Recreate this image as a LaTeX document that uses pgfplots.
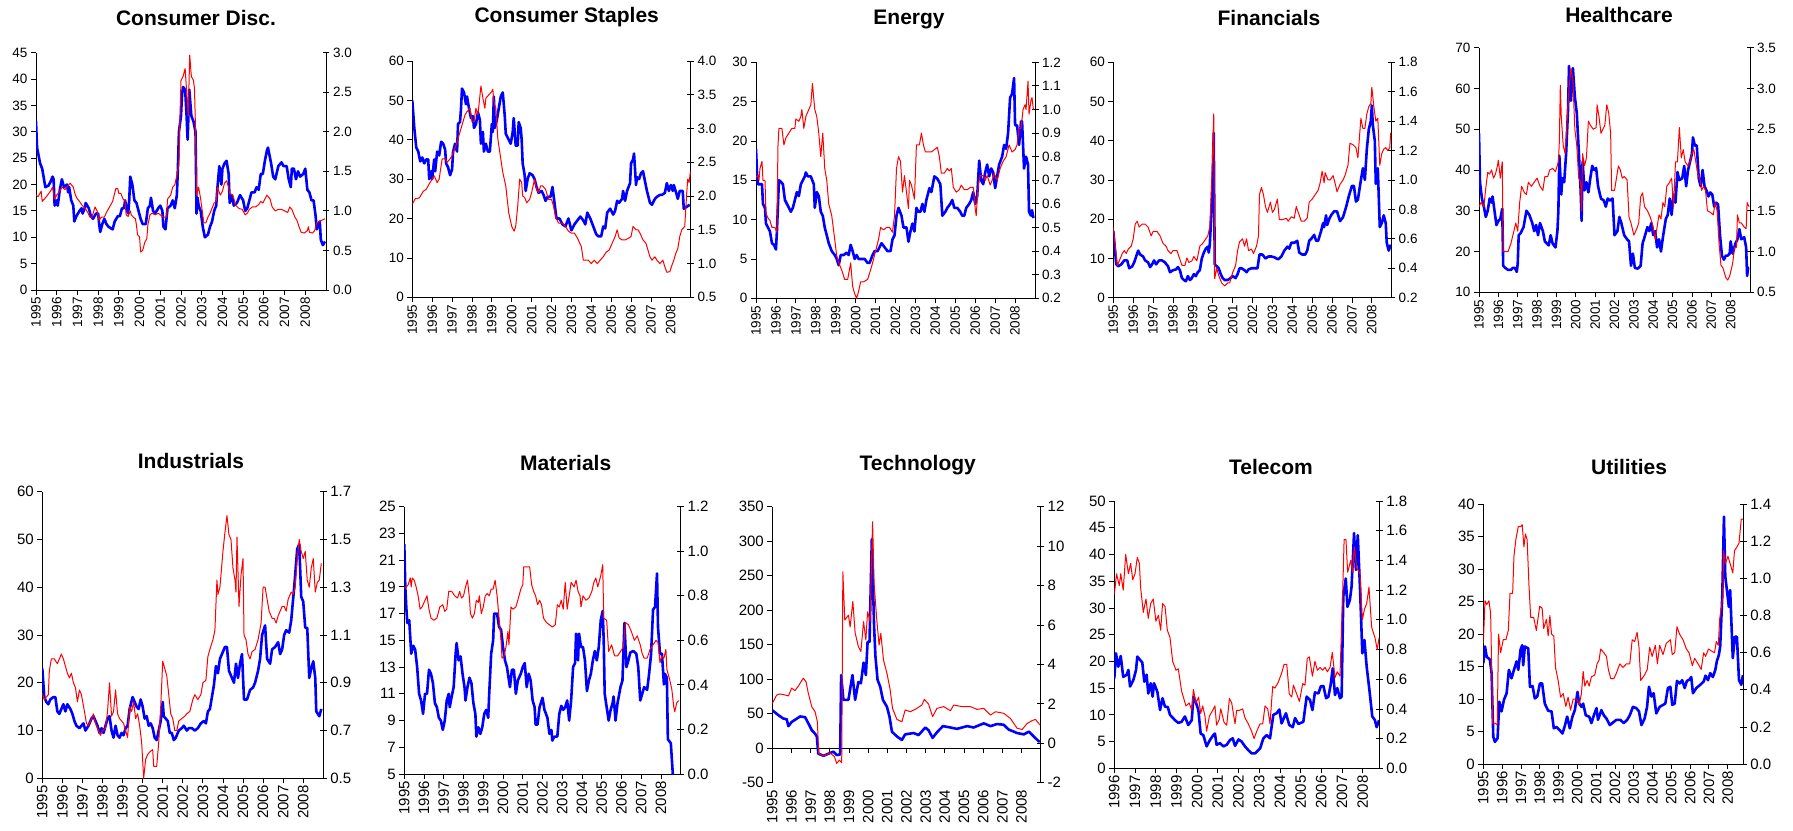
\documentclass[border=0pt]{standalone}
\usepackage{fontspec}
\setmainfont{Liberation Sans}
\usepackage{pgfplots}
\pgfplotsset{compat=1.18}
\pgfplotsset{
  /pgf/number format/assume math mode=true,
  base/.style={scale only axis, anchor=south west, xmin=1995, xmax=2009,
     xtick={1995,...,2008}, /pgf/number format/1000 sep={},
     axis line style={line width=0.9pt}, tick style={line width=0.8pt, black},
     every axis plot/.append style={line join=round}},
  L/.style={base, axis y line*=left, axis x line*=bottom, tick align=outside,
     major tick length=5pt,
     x tick label style={rotate=90, anchor=east, inner sep=2pt}},
  R/.style={base, axis y line*=right, axis x line=none, tick align=center,
     major tick length=7pt,
     yticklabel style={/pgf/number format/.cd, fixed, fixed zerofill, precision=1}},
  rowA/.style={tick label style={font=\fontsize{13.5}{15}\selectfont}},
  rowB/.style={tick label style={font=\fontsize{15}{17}\selectfont}},
  bl/.style={color={rgb,255:red,0;green,0;blue,255}, line width=2.6pt, no markers},
  rd/.style={color={rgb,255:red,255;green,0;blue,0}, line width=1pt, no markers},
}
\tikzset{ttl/.style={font=\bfseries\fontsize{21}{25}\selectfont}}
\begin{document}
\begin{tikzpicture}
\path[use as bounding box] (0pt,0pt) rectangle (1793pt,830pt);
% ---------------- Consumer Disc.
\begin{axis}[L,rowA, at={(36pt,540pt)}, width=290pt, height=237.3pt, ymin=0, ymax=45, ytick={0,5,10,15,20,25,30,35,40,45}]
\addplot[bl] coordinates {(1995.0,32)(1995.05,27)(1995.2,24)(1995.3,23)(1995.45,19.5)(1995.6,19.8)(1995.7,20.5)(1995.8,21.5)(1995.85,21)(1995.9,16)(1996.0,17)(1996.05,16)(1996.15,19)(1996.2,20)(1996.25,21)(1996.35,19.5)(1996.5,20)(1996.55,18.5)(1996.6,19.5)(1996.7,17)(1996.8,16)(1996.85,13)(1996.95,14)(1997.1,15)(1997.2,15.5)(1997.25,14.5)(1997.35,15.5)(1997.4,16.5)(1997.55,15.5)(1997.65,14)(1997.75,13.5)(1997.9,14.5)(1998.0,14.5)(1998.05,12.5)(1998.1,11)(1998.2,12.5)(1998.3,13.5)(1998.4,12.5)(1998.5,12)(1998.7,11.5)(1998.8,13)(1998.95,14)(1999.05,14)(1999.15,15.5)(1999.25,15.5)(1999.3,17)(1999.4,15)(1999.45,14.5)(1999.5,17)(1999.55,21.5)(1999.65,20)(1999.75,17)(1999.85,16.5)(1999.95,15)(2000.05,13.5)(2000.15,12.5)(2000.3,12.5)(2000.4,15.5)(2000.5,16)(2000.55,17.5)(2000.65,15)(2000.75,14.5)(2000.9,15.5)(2001.0,16)(2001.1,15)(2001.15,12)(2001.25,11.5)(2001.35,15.5)(2001.5,16)(2001.6,17)(2001.7,15.5)(2001.8,18)(2001.85,23)(2001.9,30)(2002.0,33)(2002.05,37)(2002.1,38.5)(2002.2,38)(2002.27,33)(2002.32,28.5)(2002.4,38)(2002.5,33)(2002.6,32)(2002.7,30)(2002.75,14.5)(2002.8,17.5)(2002.85,16)(2002.95,15)(2003.05,12)(2003.15,10)(2003.3,10.5)(2003.4,12)(2003.5,13)(2003.6,15)(2003.7,16)(2003.75,19)(2003.85,23.5)(2003.95,20)(2004.0,23)(2004.1,24)(2004.2,24.5)(2004.3,22)(2004.35,16.5)(2004.45,18)(2004.55,16)(2004.7,16.5)(2004.85,18)(2005.0,17)(2005.1,15)(2005.2,15.5)(2005.3,17)(2005.4,18.5)(2005.55,18.5)(2005.65,19.5)(2005.75,19)(2005.85,22)(2005.95,22)(2006.05,24.5)(2006.15,26.5)(2006.2,27)(2006.35,24)(2006.45,21.5)(2006.55,21)(2006.7,23.5)(2006.85,24.2)(2006.95,23.5)(2007.1,23.5)(2007.2,21)(2007.3,19.5)(2007.35,23)(2007.45,23)(2007.55,21)(2007.65,22.5)(2007.75,21.5)(2007.9,22)(2008.0,23)(2008.1,19)(2008.2,18.5)(2008.3,17)(2008.4,17)(2008.5,14)(2008.55,11.5)(2008.65,12.5)(2008.7,13)(2008.75,9.5)(2008.85,8.5)(2008.95,9.2)};
\end{axis}
\begin{axis}[R,rowA, at={(36pt,540pt)}, width=290pt, height=237.3pt, ymin=0, ymax=3, ytick={0,0.5,1,1.5,2,2.5,3}]
\addplot[rd] coordinates {(1995.0,1.2)(1995.1,1.18)(1995.25,1.25)(1995.3,1.12)(1995.5,1.18)(1995.7,1.25)(1995.8,1.3)(1995.9,1.15)(1996.0,1.2)(1996.15,1.25)(1996.25,1.3)(1996.4,1.27)(1996.55,1.32)(1996.65,1.35)(1996.8,1.3)(1996.9,1.2)(1997.0,1.15)(1997.1,1.12)(1997.2,1.08)(1997.3,1.05)(1997.4,1.02)(1997.5,0.98)(1997.6,0.92)(1997.7,0.92)(1997.85,1.05)(1997.95,1.0)(1998.05,0.88)(1998.15,0.92)(1998.3,0.92)(1998.4,0.98)(1998.55,1.05)(1998.7,1.12)(1998.85,1.28)(1998.95,1.28)(1999.0,1.22)(1999.1,1.22)(1999.2,1.15)(1999.3,1.13)(1999.35,0.95)(1999.45,0.93)(1999.55,1.0)(1999.6,0.95)(1999.7,0.92)(1999.8,0.9)(1999.85,0.82)(1999.9,0.7)(2000.0,0.67)(2000.05,0.48)(2000.15,0.5)(2000.25,0.6)(2000.35,0.65)(2000.4,0.82)(2000.5,0.95)(2000.6,0.97)(2000.75,0.95)(2000.9,0.97)(2001.0,0.95)(2001.15,0.92)(2001.3,0.92)(2001.35,1.15)(2001.5,1.2)(2001.6,1.3)(2001.7,1.33)(2001.8,1.45)(2001.9,1.6)(2001.95,2.2)(2002.0,2.65)(2002.1,2.7)(2002.2,2.8)(2002.25,2.6)(2002.3,2.4)(2002.35,2.2)(2002.42,2.97)(2002.5,2.7)(2002.6,2.65)(2002.65,2.55)(2002.7,2.05)(2002.75,1.2)(2002.85,1.3)(2002.95,1.15)(2003.1,0.85)(2003.2,0.85)(2003.3,0.92)(2003.4,0.97)(2003.6,1.1)(2003.7,1.12)(2003.75,1.3)(2003.9,1.2)(2004.0,1.25)(2004.1,1.35)(2004.2,1.38)(2004.3,1.3)(2004.35,1.22)(2004.5,1.2)(2004.65,1.07)(2004.8,1.03)(2004.95,1.02)(2005.1,0.95)(2005.2,0.97)(2005.3,1.02)(2005.45,1.05)(2005.6,1.05)(2005.75,1.08)(2005.85,1.12)(2005.95,1.1)(2006.05,1.15)(2006.15,1.2)(2006.3,1.15)(2006.4,1.05)(2006.55,1.0)(2006.7,1.02)(2006.85,1.02)(2007.0,1.0)(2007.15,0.98)(2007.25,1.05)(2007.35,1.02)(2007.5,0.92)(2007.6,0.88)(2007.7,0.8)(2007.8,0.73)(2007.95,0.72)(2008.1,0.75)(2008.15,0.8)(2008.2,0.73)(2008.35,0.72)(2008.45,0.75)(2008.55,0.85)(2008.7,0.87)(2008.95,0.9)};
\end{axis}
\node[ttl] at (196pt,812pt) {Consumer Disc.};
% ---------------- Consumer Staples
\begin{axis}[L,rowA, at={(412.3pt,532.7pt)}, width=278.4pt, height=236.3pt, ymin=0, ymax=60, ytick={0,10,20,30,40,50,60}]
\addplot[bl] coordinates {(1995.0,50)(1995.1,43)(1995.2,38)(1995.3,37)(1995.4,34.5)(1995.5,35.5)(1995.6,34)(1995.7,35)(1995.8,35)(1995.85,30)(1995.95,32)(1996.0,30)(1996.1,35)(1996.15,32)(1996.25,37)(1996.35,36)(1996.45,39.5)(1996.55,39)(1996.65,37.5)(1996.7,34)(1996.8,33)(1996.9,31)(1997.0,32.5)(1997.05,37)(1997.15,39)(1997.25,37)(1997.3,44)(1997.4,44.5)(1997.45,48)(1997.5,53)(1997.6,52)(1997.7,49)(1997.75,51)(1997.85,48)(1997.95,45.5)(1998.05,46)(1998.1,43)(1998.2,44)(1998.3,47)(1998.4,45)(1998.45,39)(1998.55,42)(1998.6,37)(1998.7,39)(1998.8,37)(1998.9,37)(1999.0,44)(1999.05,42)(1999.1,51)(1999.15,43)(1999.25,45)(1999.35,48)(1999.45,51)(1999.55,52)(1999.65,46)(1999.7,41.5)(1999.85,40)(1999.95,39)(2000.05,42)(2000.1,45.5)(2000.2,38.5)(2000.3,38.5)(2000.35,44.5)(2000.45,43)(2000.5,40)(2000.55,34)(2000.65,31)(2000.7,27)(2000.8,30)(2000.9,31.5)(2001.05,31)(2001.15,30)(2001.25,28)(2001.35,26.5)(2001.5,27)(2001.6,26)(2001.7,24.5)(2001.8,25.5)(2001.95,25.5)(2002.05,28)(2002.15,24)(2002.25,20)(2002.4,20)(2002.55,18.5)(2002.7,18)(2002.85,20)(2003.0,17)(2003.15,18.5)(2003.3,19.5)(2003.45,20.5)(2003.6,19.5)(2003.7,18.5)(2003.8,21.5)(2003.95,20)(2004.1,18)(2004.25,16)(2004.35,15.5)(2004.5,15.5)(2004.6,18)(2004.7,17.5)(2004.8,21.5)(2004.95,22.5)(2005.1,21)(2005.2,22)(2005.3,24.5)(2005.4,24)(2005.55,25)(2005.6,27)(2005.7,24.5)(2005.8,27)(2005.95,29)(2006.0,34)(2006.1,35)(2006.15,36.5)(2006.25,28.5)(2006.3,30.5)(2006.4,30)(2006.5,31.5)(2006.6,32)(2006.7,29.5)(2006.8,27)(2006.95,24)(2007.05,23.5)(2007.2,25)(2007.3,25.5)(2007.45,26)(2007.55,26)(2007.7,26.5)(2007.8,29)(2007.9,27)(2008.0,28.5)(2008.1,27)(2008.15,28.5)(2008.3,26)(2008.35,25)(2008.45,27)(2008.6,27)(2008.65,22.5)(2008.8,23)(2008.95,23.5)};
\end{axis}
\begin{axis}[R,rowA, at={(412.3pt,532.7pt)}, width=278.4pt, height=236.3pt, ymin=0.5, ymax=4, ytick={0.5,1,1.5,2,2.5,3,3.5,4}]
\addplot[rd] coordinates {(1995.0,1.88)(1995.15,1.96)(1995.35,1.97)(1995.55,2.07)(1995.7,2.1)(1995.85,2.18)(1996.0,2.25)(1996.1,2.3)(1996.25,2.2)(1996.35,2.25)(1996.5,2.55)(1996.65,2.55)(1996.75,2.5)(1996.9,2.55)(1997.0,2.6)(1997.2,2.75)(1997.35,2.9)(1997.5,3.05)(1997.65,3.2)(1997.75,3.25)(1997.9,3.3)(1998.0,3.1)(1998.1,3.1)(1998.2,3.3)(1998.3,3.2)(1998.45,3.63)(1998.55,3.45)(1998.65,3.3)(1998.7,3.45)(1998.85,3.5)(1999.0,3.55)(1999.05,3.58)(1999.1,3.4)(1999.2,3.3)(1999.3,2.85)(1999.45,2.55)(1999.55,2.35)(1999.7,2.15)(1999.85,1.75)(2000.0,1.55)(2000.12,1.48)(2000.2,1.55)(2000.3,1.85)(2000.4,2.25)(2000.5,2.2)(2000.55,2.0)(2000.65,1.98)(2000.75,1.9)(2000.9,1.95)(2001.0,2.05)(2001.15,2.25)(2001.25,2.1)(2001.35,2.05)(2001.45,2.15)(2001.55,2.15)(2001.7,2.1)(2001.85,1.95)(2002.0,1.95)(2002.1,1.85)(2002.2,1.7)(2002.35,1.6)(2002.55,1.6)(2002.7,1.55)(2002.85,1.48)(2003.0,1.45)(2003.15,1.45)(2003.3,1.38)(2003.5,1.25)(2003.6,1.05)(2003.85,1.05)(2004.0,1.0)(2004.15,1.05)(2004.3,1.0)(2004.45,1.05)(2004.6,1.1)(2004.75,1.17)(2004.9,1.2)(2005.05,1.3)(2005.2,1.4)(2005.3,1.5)(2005.4,1.38)(2005.55,1.35)(2005.7,1.35)(2005.85,1.37)(2006.0,1.4)(2006.1,1.55)(2006.25,1.5)(2006.35,1.5)(2006.45,1.45)(2006.6,1.35)(2006.75,1.3)(2006.85,1.2)(2006.95,1.1)(2007.05,1.05)(2007.2,1.1)(2007.3,1.05)(2007.45,1.0)(2007.6,1.05)(2007.7,0.95)(2007.8,0.87)(2007.95,0.88)(2008.05,0.97)(2008.15,1.05)(2008.25,1.15)(2008.35,1.22)(2008.45,1.4)(2008.55,1.5)(2008.7,1.55)(2008.8,2.05)(2008.85,2.25)(2008.92,2.2)(2008.99,2.37)};
\end{axis}
\node[ttl] at (566.7pt,813.3pt) {Consumer Staples};
% ---------------- Energy
\begin{axis}[L,rowA, at={(756pt,531.7pt)}, width=279pt, height=236pt, ymin=0, ymax=30, ytick={0,5,10,15,20,25,30}]
\addplot[bl] coordinates {(1995.0,19)(1995.05,16)(1995.1,14.5)(1995.2,14.5)(1995.3,14.5)(1995.35,12)(1995.45,11.5)(1995.5,9.5)(1995.6,9)(1995.7,8.5)(1995.8,7)(1995.9,6.8)(1996.0,6.2)(1996.05,8.5)(1996.15,15)(1996.25,14.8)(1996.35,14.5)(1996.45,12.5)(1996.55,12)(1996.65,11.5)(1996.75,11)(1996.85,11.5)(1996.95,12.5)(1997.05,13.5)(1997.15,13)(1997.25,14.5)(1997.35,15)(1997.45,15.5)(1997.5,16)(1997.6,15.5)(1997.75,15.5)(1997.9,14.5)(1997.95,11.5)(1998.05,13.5)(1998.15,13)(1998.25,11)(1998.35,10.5)(1998.45,9)(1998.55,8)(1998.65,7)(1998.8,6)(1998.95,5.5)(1999.05,5)(1999.15,4.2)(1999.25,5.5)(1999.4,5.5)(1999.55,5.8)(1999.65,5.5)(1999.75,6.8)(1999.85,6)(1999.95,5)(2000.05,5.5)(2000.15,5)(2000.3,5)(2000.45,5)(2000.6,4.5)(2000.7,4.5)(2000.85,5.5)(2000.95,6)(2001.1,6)(2001.2,6.5)(2001.3,7)(2001.45,6.5)(2001.6,6)(2001.75,6)(2001.85,7.5)(2001.95,8)(2002.05,10.5)(2002.15,11.5)(2002.3,10.5)(2002.4,9)(2002.55,9)(2002.65,7.2)(2002.75,8.5)(2002.85,9.5)(2002.95,8.5)(2003.05,11.5)(2003.15,11)(2003.25,11)(2003.35,12)(2003.45,11)(2003.55,12.5)(2003.7,14)(2003.8,13.5)(2003.95,15.5)(2004.1,15.2)(2004.25,14.5)(2004.35,10.5)(2004.5,11)(2004.6,11.5)(2004.75,12)(2004.85,12.5)(2004.95,11.5)(2005.1,11.5)(2005.25,11)(2005.35,10.5)(2005.45,10.5)(2005.55,11.5)(2005.7,12)(2005.8,12.5)(2005.9,13.5)(2006.0,12)(2006.1,13)(2006.2,17.5)(2006.3,15)(2006.4,14.5)(2006.5,16)(2006.6,17)(2006.7,15.5)(2006.8,16.5)(2006.9,16)(2007.0,14)(2007.1,15.5)(2007.2,17)(2007.35,18)(2007.45,19.5)(2007.55,19)(2007.65,21)(2007.75,25.5)(2007.85,26)(2007.95,28)(2008.0,22)(2008.1,22)(2008.2,19.5)(2008.3,22.5)(2008.35,22.5)(2008.45,16.5)(2008.55,18)(2008.65,17)(2008.7,11)(2008.8,10.5)(2008.85,11.2)(2008.92,10.2)};
\end{axis}
\begin{axis}[R,rowA, at={(756pt,531.7pt)}, width=279pt, height=236pt, ymin=0.2, ymax=1.2, ytick={0.2,0.3,0.4,0.5,0.6,0.7,0.8,0.9,1.0,1.1,1.2}]
\addplot[rd] coordinates {(1995.0,0.715)(1995.1,0.72)(1995.15,0.7)(1995.2,0.75)(1995.3,0.78)(1995.35,0.7)(1995.45,0.7)(1995.5,0.56)(1995.6,0.54)(1995.7,0.53)(1995.8,0.5)(1995.95,0.5)(1996.05,0.48)(1996.1,0.84)(1996.15,0.92)(1996.3,0.92)(1996.4,0.85)(1996.5,0.88)(1996.65,0.9)(1996.8,0.92)(1996.95,0.92)(1997.0,0.96)(1997.15,0.95)(1997.25,0.97)(1997.3,1.0)(1997.4,0.92)(1997.5,0.97)(1997.65,1.0)(1997.75,1.02)(1997.83,1.11)(1997.95,1.0)(1998.05,0.97)(1998.15,0.9)(1998.25,0.8)(1998.35,0.9)(1998.45,0.75)(1998.55,0.7)(1998.65,0.6)(1998.8,0.55)(1998.95,0.45)(1999.05,0.38)(1999.15,0.35)(1999.3,0.32)(1999.45,0.28)(1999.6,0.28)(1999.75,0.35)(1999.85,0.25)(1999.95,0.22)(2000.05,0.2)(2000.15,0.23)(2000.25,0.27)(2000.4,0.27)(2000.6,0.28)(2000.75,0.32)(2000.85,0.35)(2001.0,0.4)(2001.15,0.45)(2001.25,0.5)(2001.4,0.49)(2001.55,0.5)(2001.7,0.5)(2001.85,0.48)(2001.95,0.55)(2002.05,0.75)(2002.15,0.8)(2002.25,0.78)(2002.35,0.65)(2002.45,0.72)(2002.55,0.65)(2002.65,0.58)(2002.7,0.7)(2002.8,0.68)(2002.95,0.62)(2003.05,0.85)(2003.2,0.85)(2003.3,0.9)(2003.4,0.85)(2003.5,0.82)(2003.65,0.82)(2003.8,0.82)(2003.95,0.83)(2004.1,0.84)(2004.2,0.8)(2004.3,0.73)(2004.45,0.73)(2004.6,0.75)(2004.7,0.74)(2004.8,0.75)(2004.9,0.67)(2005.05,0.65)(2005.2,0.66)(2005.3,0.68)(2005.45,0.66)(2005.6,0.66)(2005.75,0.67)(2005.9,0.67)(2006.0,0.58)(2006.05,0.55)(2006.15,0.68)(2006.25,0.72)(2006.4,0.72)(2006.5,0.7)(2006.6,0.72)(2006.75,0.68)(2006.85,0.7)(2006.95,0.73)(2007.1,0.7)(2007.25,0.75)(2007.4,0.78)(2007.55,0.8)(2007.7,0.85)(2007.85,0.82)(2008.0,0.83)(2008.1,0.85)(2008.2,0.92)(2008.3,0.92)(2008.4,1.0)(2008.5,1.02)(2008.55,1.0)(2008.65,1.12)(2008.7,0.98)(2008.8,1.04)(2008.85,1.05)(2008.92,1.0)};
\end{axis}
\node[ttl] at (909pt,810pt) {Energy};
% ---------------- Financials
\begin{axis}[L,rowA, at={(1113.3pt,532.3pt)}, width=278.4pt, height=235.4pt, ymin=0, ymax=60, ytick={0,10,20,30,40,50,60}]
\addplot[bl] coordinates {(1995.0,17)(1995.05,14)(1995.15,8.5)(1995.25,8)(1995.4,8.5)(1995.55,9.5)(1995.7,9.5)(1995.8,7.5)(1995.95,8)(1996.05,9)(1996.15,10.5)(1996.25,12)(1996.35,11)(1996.5,10.5)(1996.6,9.5)(1996.75,9)(1996.85,7.8)(1996.95,8.5)(1997.05,9.5)(1997.15,8.5)(1997.3,9.5)(1997.45,9.5)(1997.6,9)(1997.75,8)(1997.85,6.5)(1998.0,7)(1998.15,7.2)(1998.25,7.8)(1998.35,7)(1998.45,5)(1998.55,4.5)(1998.65,4.2)(1998.75,5.5)(1998.85,4.5)(1998.95,5)(1999.05,6)(1999.15,5.5)(1999.25,6.5)(1999.35,7)(1999.45,10)(1999.55,11.5)(1999.65,12.5)(1999.75,13)(1999.8,11.5)(1999.85,13.5)(1999.95,23)(2000.0,30)(2000.05,42)(2000.1,8.5)(2000.2,8)(2000.3,7.5)(2000.4,6)(2000.5,5)(2000.6,4.5)(2000.75,4.5)(2000.9,5)(2001.0,5.5)(2001.15,5)(2001.25,6)(2001.35,7.5)(2001.45,7.5)(2001.6,7)(2001.7,6.5)(2001.8,7.2)(2001.95,7.5)(2002.1,7.5)(2002.25,7.5)(2002.35,11)(2002.5,11)(2002.65,10)(2002.8,10.5)(2002.95,10.5)(2003.1,10.3)(2003.2,10)(2003.3,9.8)(2003.45,10.5)(2003.6,12)(2003.75,13)(2003.85,12.5)(2003.95,14)(2004.1,14)(2004.25,14.5)(2004.35,11.5)(2004.5,11)(2004.65,11)(2004.75,12)(2004.85,14.5)(2004.95,15)(2005.1,16)(2005.2,14.5)(2005.3,14.5)(2005.45,17)(2005.55,19)(2005.6,18)(2005.7,21)(2005.75,18.5)(2005.85,20)(2005.95,21)(2006.1,22)(2006.25,22)(2006.4,19.5)(2006.55,20.5)(2006.7,23)(2006.85,26)(2007.0,28.5)(2007.1,28.5)(2007.2,24.5)(2007.3,25)(2007.45,30)(2007.55,33)(2007.65,30)(2007.75,38)(2007.85,43)(2007.95,45)(2008.0,49)(2008.05,44)(2008.15,40)(2008.2,29)(2008.3,33)(2008.4,18)(2008.5,19)(2008.6,21)(2008.7,19)(2008.75,14)(2008.85,12)(2008.95,13.5)};
\end{axis}
\begin{axis}[R,rowA, at={(1113.3pt,532.3pt)}, width=278.4pt, height=235.4pt, ymin=0.2, ymax=1.8, ytick={0.2,0.4,0.6,0.8,1.0,1.2,1.4,1.6,1.8}]
\addplot[rd] coordinates {(1995.0,0.676)(1995.1,0.55)(1995.2,0.42)(1995.3,0.45)(1995.45,0.5)(1995.55,0.52)(1995.65,0.5)(1995.75,0.53)(1995.9,0.55)(1996.0,0.6)(1996.1,0.7)(1996.2,0.72)(1996.3,0.68)(1996.45,0.7)(1996.6,0.7)(1996.75,0.68)(1996.9,0.62)(1997.0,0.65)(1997.2,0.65)(1997.35,0.62)(1997.5,0.57)(1997.65,0.55)(1997.75,0.52)(1997.9,0.5)(1998.0,0.52)(1998.2,0.52)(1998.3,0.48)(1998.45,0.42)(1998.6,0.42)(1998.7,0.47)(1998.8,0.44)(1998.95,0.45)(1999.05,0.48)(1999.2,0.45)(1999.35,0.55)(1999.5,0.57)(1999.65,0.6)(1999.75,0.62)(1999.85,0.68)(1999.95,1.0)(2000.05,1.45)(2000.1,0.33)(2000.2,0.4)(2000.3,0.35)(2000.45,0.3)(2000.6,0.28)(2000.75,0.3)(2000.85,0.3)(2001.0,0.37)(2001.15,0.42)(2001.25,0.52)(2001.35,0.58)(2001.5,0.6)(2001.6,0.55)(2001.7,0.6)(2001.8,0.52)(2001.95,0.53)(2002.05,0.5)(2002.2,0.55)(2002.3,0.62)(2002.35,0.9)(2002.45,0.95)(2002.55,0.9)(2002.65,0.82)(2002.75,0.78)(2002.9,0.85)(2003.0,0.78)(2003.1,0.8)(2003.25,0.87)(2003.35,0.73)(2003.5,0.73)(2003.7,0.74)(2003.8,0.72)(2003.95,0.75)(2004.1,0.74)(2004.2,0.82)(2004.3,0.78)(2004.45,0.72)(2004.6,0.72)(2004.75,0.74)(2004.85,0.85)(2005.0,0.87)(2005.15,0.9)(2005.3,0.93)(2005.4,0.98)(2005.5,1.06)(2005.6,0.98)(2005.65,1.05)(2005.8,1.0)(2005.9,1.0)(2006.05,1.03)(2006.15,0.98)(2006.25,0.92)(2006.4,0.97)(2006.55,1.0)(2006.65,1.03)(2006.8,1.1)(2006.9,1.25)(2007.05,1.24)(2007.2,1.22)(2007.3,1.15)(2007.45,1.42)(2007.55,1.35)(2007.65,1.35)(2007.75,1.45)(2007.85,1.5)(2007.95,1.52)(2008.0,1.63)(2008.1,1.5)(2008.2,1.4)(2008.3,1.42)(2008.4,1.1)(2008.5,1.18)(2008.6,1.21)(2008.7,1.22)(2008.8,1.2)(2008.9,1.22)(2008.95,1.32)};
\end{axis}
\node[ttl] at (1269pt,811.7pt) {Financials};
% ---------------- Healthcare
\begin{axis}[L,rowA, at={(1479pt,537.7pt)}, width=271pt, height=244.6pt, ymin=10, ymax=70, ytick={10,20,30,40,50,60,70}]
\addplot[bl] coordinates {(1995.0,49)(1995.05,37)(1995.15,33)(1995.25,31)(1995.35,28.5)(1995.45,30)(1995.55,33)(1995.65,32)(1995.7,33.5)(1995.8,30)(1995.9,26.5)(1996.0,27.5)(1996.1,28)(1996.2,30.5)(1996.25,16.5)(1996.35,16)(1996.5,15.5)(1996.65,15.5)(1996.75,16)(1996.85,16)(1996.95,15)(1997.0,17)(1997.05,24)(1997.15,24.5)(1997.3,26)(1997.45,30)(1997.6,29)(1997.75,27)(1997.85,25)(1997.95,26.5)(1998.05,24)(1998.15,27)(1998.3,25)(1998.4,22.5)(1998.5,22)(1998.6,21.5)(1998.7,24)(1998.8,22)(1998.95,21)(1999.05,25)(1999.1,30)(1999.15,43.5)(1999.25,34)(1999.3,38)(1999.4,37)(1999.5,44)(1999.6,55)(1999.65,65.5)(1999.75,57)(1999.85,65)(1999.95,58)(2000.05,54)(2000.15,45)(2000.25,35)(2000.3,27.5)(2000.35,42)(2000.45,35)(2000.55,37)(2000.65,34.5)(2000.75,38)(2000.85,41)(2000.95,40)(2001.05,40.5)(2001.15,36)(2001.3,33)(2001.45,32.5)(2001.55,31)(2001.65,33)(2001.75,32.5)(2001.9,33)(2002.0,24)(2002.15,25)(2002.25,28.5)(2002.35,27)(2002.5,24)(2002.65,23)(2002.75,22.5)(2002.85,16.5)(2002.95,19.5)(2003.05,16)(2003.2,15.8)(2003.35,16.5)(2003.45,22)(2003.55,23.5)(2003.7,26)(2003.8,25)(2003.9,27)(2004.0,24)(2004.1,25)(2004.2,21)(2004.3,23)(2004.4,20)(2004.5,23.5)(2004.65,28)(2004.75,29)(2004.85,33)(2004.95,29)(2005.05,34)(2005.15,32)(2005.25,39.5)(2005.35,37.5)(2005.5,38)(2005.6,41)(2005.7,36)(2005.8,40)(2005.9,42)(2006.0,44)(2006.05,48)(2006.15,46)(2006.25,46)(2006.35,38)(2006.45,36)(2006.55,40)(2006.65,36)(2006.75,35)(2006.85,33.5)(2006.95,34.5)(2007.05,34)(2007.15,31)(2007.25,32)(2007.35,31.5)(2007.45,24)(2007.55,19)(2007.65,18)(2007.75,19)(2007.85,19)(2007.95,19.5)(2008.0,22.5)(2008.1,19.5)(2008.25,22)(2008.35,23)(2008.45,25.5)(2008.55,23)(2008.7,23.5)(2008.8,21)(2008.85,14)(2008.9,16)(2008.95,16)};
\end{axis}
\begin{axis}[R,rowA, at={(1479pt,537.7pt)}, width=271pt, height=244.6pt, ymin=0.5, ymax=3.5, ytick={0.5,1,1.5,2,2.5,3,3.5}]
\addplot[rd] coordinates {(1995.0,1.55)(1995.1,1.6)(1995.25,1.55)(1995.35,1.78)(1995.45,1.97)(1995.55,1.95)(1995.65,2.0)(1995.75,1.9)(1995.85,1.95)(1995.95,2.05)(1996.0,2.12)(1996.1,1.9)(1996.2,2.1)(1996.25,1.0)(1996.35,1.0)(1996.5,1.0)(1996.65,1.1)(1996.8,1.25)(1996.9,1.35)(1997.0,1.25)(1997.1,1.6)(1997.2,1.8)(1997.35,1.72)(1997.45,1.7)(1997.55,1.85)(1997.7,1.8)(1997.85,1.85)(1998.0,1.9)(1998.15,1.8)(1998.3,1.75)(1998.4,1.92)(1998.55,1.92)(1998.65,2.0)(1998.8,2.02)(1998.95,1.98)(1999.1,2.1)(1999.15,2.35)(1999.2,3.04)(1999.25,2.65)(1999.35,2.3)(1999.45,2.2)(1999.55,2.6)(1999.65,3.0)(1999.75,3.25)(1999.85,3.1)(1999.95,2.5)(2000.05,2.3)(2000.15,1.9)(2000.25,1.85)(2000.3,1.5)(2000.35,2.2)(2000.45,2.05)(2000.55,2.15)(2000.65,2.6)(2000.75,2.55)(2000.9,2.5)(2001.05,2.52)(2001.1,2.8)(2001.2,2.65)(2001.3,2.45)(2001.4,2.5)(2001.5,2.55)(2001.6,2.8)(2001.7,2.7)(2001.8,2.45)(2001.85,1.75)(2002.0,1.75)(2002.1,1.9)(2002.2,2.05)(2002.3,2.0)(2002.4,1.9)(2002.5,1.92)(2002.65,1.88)(2002.75,1.42)(2002.85,1.35)(2003.0,1.2)(2003.15,1.28)(2003.25,1.35)(2003.35,1.67)(2003.45,1.72)(2003.55,1.55)(2003.7,1.5)(2003.85,1.42)(2004.0,1.3)(2004.1,1.15)(2004.2,1.3)(2004.3,1.45)(2004.4,1.4)(2004.5,1.6)(2004.6,1.55)(2004.7,1.8)(2004.85,1.85)(2004.95,1.9)(2005.05,1.55)(2005.15,2.1)(2005.25,2.1)(2005.35,2.52)(2005.45,2.15)(2005.55,2.25)(2005.65,2.1)(2005.8,2.05)(2005.9,2.1)(2006.0,2.2)(2006.1,2.25)(2006.2,2.1)(2006.3,1.95)(2006.4,1.9)(2006.5,1.75)(2006.6,1.8)(2006.7,1.75)(2006.8,1.5)(2006.95,1.48)(2007.1,1.45)(2007.2,1.6)(2007.3,1.5)(2007.4,1.1)(2007.5,0.83)(2007.6,0.8)(2007.75,0.68)(2007.85,0.65)(2007.95,0.7)(2008.1,0.85)(2008.2,1.05)(2008.3,1.05)(2008.35,1.45)(2008.45,1.35)(2008.55,1.35)(2008.7,1.3)(2008.8,1.28)(2008.85,1.6)(2008.95,1.55)};
\end{axis}
\node[ttl] at (1619pt,815pt) {Healthcare};
% ---------------- Industrials
\begin{axis}[L,rowB, at={(42.3pt,51.7pt)}, width=281pt, height=286.6pt, ymin=0, ymax=60, ytick={0,10,20,30,40,50,60}]
\addplot[bl] coordinates {(1995.0,23)(1995.05,20)(1995.1,17)(1995.2,16)(1995.3,15.5)(1995.4,16.5)(1995.55,17)(1995.65,17)(1995.75,14)(1995.85,13.5)(1995.95,14.5)(1996.05,15.5)(1996.15,14)(1996.25,15.5)(1996.4,14.5)(1996.5,13.5)(1996.6,12)(1996.7,11)(1996.85,10.5)(1996.95,11)(1997.05,11.5)(1997.15,10)(1997.3,11)(1997.45,12.5)(1997.55,13)(1997.65,12)(1997.75,11)(1997.85,9.5)(1997.95,10.5)(1998.05,9.5)(1998.15,11)(1998.25,12.5)(1998.35,13)(1998.45,10)(1998.55,8.5)(1998.65,11)(1998.75,9)(1998.85,8.5)(1998.95,9.5)(1999.05,9)(1999.15,10.5)(1999.25,11)(1999.35,14.5)(1999.5,17)(1999.6,16)(1999.7,15)(1999.8,14.5)(1999.9,16.5)(2000.0,15)(2000.1,12.5)(2000.2,13)(2000.3,11)(2000.4,11.5)(2000.5,10.5)(2000.6,8.5)(2000.7,8)(2000.8,10)(2000.9,12)(2001.0,16)(2001.05,13)(2001.15,12.5)(2001.25,12)(2001.35,9.5)(2001.45,9.5)(2001.55,8)(2001.65,8.5)(2001.8,10)(2001.95,10.5)(2002.05,11)(2002.2,10)(2002.3,10.5)(2002.45,10.5)(2002.6,10)(2002.75,10.5)(2002.9,11.5)(2003.05,12)(2003.15,11.5)(2003.25,14)(2003.35,14.5)(2003.45,17)(2003.55,19.5)(2003.65,23.5)(2003.75,22)(2003.85,25)(2003.95,26)(2004.1,27.5)(2004.2,27.5)(2004.3,22.5)(2004.45,21)(2004.55,20)(2004.65,24)(2004.75,21)(2004.85,24)(2004.95,26)(2005.05,16.5)(2005.2,16.5)(2005.35,18.5)(2005.5,19)(2005.6,20)(2005.75,22.5)(2005.85,25)(2005.95,30)(2006.1,32)(2006.2,25)(2006.35,24)(2006.45,27)(2006.6,27.5)(2006.75,28.5)(2006.85,26)(2006.95,27)(2007.05,30)(2007.15,31)(2007.3,30.5)(2007.4,33)(2007.55,40)(2007.7,48)(2007.8,49)(2007.9,38)(2008.0,37)(2008.1,31.5)(2008.2,31.5)(2008.3,21)(2008.4,23)(2008.5,24.5)(2008.6,21)(2008.65,14)(2008.8,13)(2008.9,14.5)};
\end{axis}
\begin{axis}[R,rowB, at={(42.3pt,51.7pt)}, width=281pt, height=286.6pt, ymin=0.5, ymax=1.7, ytick={0.5,0.7,0.9,1.1,1.3,1.5,1.7}]
\addplot[rd] coordinates {(1995.0,0.856)(1995.1,0.83)(1995.2,0.84)(1995.3,0.85)(1995.35,0.95)(1995.45,1.0)(1995.6,1.0)(1995.75,0.98)(1995.85,1.0)(1995.95,1.02)(1996.05,1.0)(1996.15,0.97)(1996.25,0.94)(1996.35,0.92)(1996.45,0.94)(1996.55,0.9)(1996.65,0.88)(1996.75,0.82)(1996.85,0.87)(1996.95,0.85)(1997.1,0.78)(1997.2,0.73)(1997.3,0.72)(1997.45,0.75)(1997.55,0.77)(1997.65,0.73)(1997.8,0.7)(1997.9,0.68)(1998.0,0.7)(1998.15,0.71)(1998.25,0.78)(1998.35,0.9)(1998.45,0.76)(1998.55,0.78)(1998.65,0.87)(1998.75,0.77)(1998.85,0.75)(1998.95,0.74)(1999.05,0.73)(1999.15,0.7)(1999.25,0.67)(1999.35,0.8)(1999.45,0.78)(1999.55,0.82)(1999.65,0.75)(1999.75,0.77)(1999.85,0.72)(1999.95,0.65)(2000.05,0.5)(2000.15,0.58)(2000.25,0.6)(2000.35,0.61)(2000.5,0.62)(2000.55,0.55)(2000.7,0.55)(2000.8,0.65)(2000.9,0.8)(2001.0,0.99)(2001.1,0.96)(2001.2,0.93)(2001.3,0.85)(2001.4,0.77)(2001.5,0.75)(2001.6,0.7)(2001.7,0.7)(2001.8,0.74)(2001.95,0.75)(2002.1,0.76)(2002.2,0.77)(2002.35,0.78)(2002.5,0.83)(2002.6,0.85)(2002.75,0.83)(2002.9,0.85)(2003.0,0.9)(2003.15,0.91)(2003.25,1.01)(2003.35,1.04)(2003.5,1.08)(2003.6,1.12)(2003.7,1.33)(2003.75,1.27)(2003.85,1.3)(2004.0,1.45)(2004.1,1.53)(2004.2,1.6)(2004.3,1.52)(2004.4,1.5)(2004.5,1.38)(2004.6,1.33)(2004.65,1.28)(2004.7,1.51)(2004.8,1.22)(2004.9,1.35)(2005.0,1.42)(2005.05,1.1)(2005.15,1.08)(2005.25,1.02)(2005.35,1.0)(2005.45,1.03)(2005.6,1.04)(2005.75,1.08)(2005.9,1.15)(2006.0,1.3)(2006.1,1.3)(2006.2,1.25)(2006.3,1.2)(2006.45,1.17)(2006.55,1.17)(2006.65,1.15)(2006.75,1.18)(2006.85,1.2)(2006.95,1.22)(2007.05,1.22)(2007.15,1.2)(2007.25,1.25)(2007.4,1.28)(2007.5,1.27)(2007.6,1.3)(2007.7,1.42)(2007.8,1.5)(2007.9,1.45)(2008.0,1.42)(2008.1,1.45)(2008.2,1.33)(2008.3,1.3)(2008.4,1.38)(2008.5,1.42)(2008.6,1.28)(2008.7,1.32)(2008.8,1.33)(2008.9,1.4)};
\end{axis}
\node[ttl] at (191pt,369.3pt) {Industrials};
% ---------------- Materials
\begin{axis}[L,rowB, at={(404.3pt,56pt)}, width=276.4pt, height=267.3pt, ymin=5, ymax=25, ytick={5,7,9,11,13,15,17,19,21,23,25}]
\addplot[bl] coordinates {(1995.0,22.2)(1995.05,19)(1995.1,17.5)(1995.15,16.3)(1995.25,16.5)(1995.35,14)(1995.45,14.6)(1995.55,14.3)(1995.65,13)(1995.75,11)(1995.85,10.5)(1995.95,9.5)(1996.05,11)(1996.15,11)(1996.25,12.8)(1996.35,12.5)(1996.45,11.8)(1996.55,10.3)(1996.65,10)(1996.75,9.2)(1996.85,9)(1996.95,8.3)(1997.05,9)(1997.15,10.5)(1997.25,11)(1997.3,10)(1997.4,10.8)(1997.5,11.5)(1997.6,14)(1997.65,14.8)(1997.75,13.5)(1997.85,13.8)(1997.95,12.5)(1998.05,11.5)(1998.1,10.5)(1998.2,11.5)(1998.3,12.2)(1998.4,11.8)(1998.5,10.3)(1998.6,9.5)(1998.65,7.8)(1998.75,8.5)(1998.85,8)(1998.95,8.5)(1999.05,9.5)(1999.15,9.8)(1999.25,9.2)(1999.3,11)(1999.4,14)(1999.5,15)(1999.55,17)(1999.7,17)(1999.8,16)(1999.9,15.8)(2000.0,14.5)(2000.1,13.5)(2000.2,13)(2000.35,11.5)(2000.45,12.8)(2000.55,12.8)(2000.65,11)(2000.75,12)(2000.9,12.5)(2001.0,13)(2001.1,13.3)(2001.2,11.5)(2001.3,12.5)(2001.4,12)(2001.5,10.5)(2001.6,10)(2001.65,8.7)(2001.75,8.7)(2001.85,10)(2002.0,10.7)(2002.1,9.8)(2002.25,9.2)(2002.35,8)(2002.45,8.3)(2002.5,7.5)(2002.6,7.8)(2002.75,7.8)(2002.85,9.5)(2002.95,10.1)(2003.05,9.8)(2003.15,10)(2003.25,10.5)(2003.35,9)(2003.45,10.5)(2003.55,13)(2003.65,13.3)(2003.7,15.5)(2003.8,13.5)(2003.85,15.5)(2003.95,14.5)(2004.05,14.5)(2004.15,13.5)(2004.25,11.2)(2004.35,12)(2004.45,12.5)(2004.55,13.5)(2004.65,14.2)(2004.75,13.5)(2004.85,14.5)(2004.95,16.5)(2005.05,17.2)(2005.1,15)(2005.15,11)(2005.25,10)(2005.35,9)(2005.45,9.8)(2005.55,10.3)(2005.6,10.8)(2005.7,9)(2005.8,10.3)(2005.95,11.5)(2006.05,12)(2006.15,16.3)(2006.25,13)(2006.35,13.5)(2006.45,14.1)(2006.6,14.2)(2006.75,14)(2006.85,13)(2006.95,10.5)(2007.05,11)(2007.15,11.5)(2007.3,11.3)(2007.4,12.5)(2007.5,14)(2007.6,17.3)(2007.7,17.5)(2007.8,20)(2007.85,16)(2007.95,14)(2008.05,14)(2008.15,11.7)(2008.2,12.5)(2008.3,12.2)(2008.35,7.6)(2008.5,7.3)(2008.6,5)(2008.65,3)};
\end{axis}
\begin{axis}[R,rowB, at={(404.3pt,56pt)}, width=276.4pt, height=267.3pt, ymin=0, ymax=1.2, ytick={0,0.2,0.4,0.6,0.8,1.0,1.2}]
\addplot[rd] coordinates {(1995.0,0.833)(1995.1,0.84)(1995.2,0.85)(1995.3,0.88)(1995.35,0.84)(1995.4,0.88)(1995.5,0.87)(1995.6,0.84)(1995.7,0.8)(1995.8,0.74)(1995.9,0.75)(1996.0,0.77)(1996.15,0.8)(1996.25,0.74)(1996.35,0.7)(1996.5,0.69)(1996.65,0.7)(1996.8,0.75)(1996.95,0.76)(1997.05,0.73)(1997.15,0.74)(1997.25,0.82)(1997.4,0.82)(1997.55,0.8)(1997.7,0.79)(1997.8,0.82)(1997.9,0.79)(1998.0,0.8)(1998.1,0.84)(1998.2,0.87)(1998.3,0.79)(1998.35,0.72)(1998.45,0.7)(1998.55,0.72)(1998.65,0.78)(1998.75,0.77)(1998.8,0.8)(1998.9,0.72)(1999.0,0.75)(1999.1,0.8)(1999.2,0.81)(1999.3,0.8)(1999.4,0.83)(1999.5,0.83)(1999.6,0.87)(1999.7,0.8)(1999.8,0.7)(1999.9,0.6)(1999.95,0.52)(2000.05,0.53)(2000.15,0.57)(2000.25,0.64)(2000.3,0.58)(2000.4,0.75)(2000.5,0.74)(2000.65,0.75)(2000.75,0.78)(2000.9,0.83)(2001.0,0.85)(2001.05,0.93)(2001.2,0.93)(2001.35,0.93)(2001.45,0.85)(2001.55,0.82)(2001.65,0.8)(2001.75,0.76)(2001.85,0.78)(2001.95,0.76)(2002.05,0.7)(2002.2,0.68)(2002.35,0.67)(2002.5,0.66)(2002.65,0.67)(2002.75,0.76)(2002.85,0.75)(2002.95,0.78)(2003.05,0.74)(2003.15,0.86)(2003.25,0.74)(2003.35,0.8)(2003.45,0.86)(2003.6,0.84)(2003.7,0.87)(2003.8,0.82)(2003.9,0.8)(2003.95,0.75)(2004.05,0.8)(2004.2,0.78)(2004.35,0.79)(2004.5,0.82)(2004.6,0.86)(2004.7,0.88)(2004.8,0.84)(2004.95,0.89)(2005.05,0.94)(2005.1,0.7)(2005.25,0.69)(2005.35,0.55)(2005.5,0.58)(2005.65,0.53)(2005.8,0.53)(2005.95,0.55)(2006.1,0.57)(2006.2,0.68)(2006.35,0.67)(2006.5,0.64)(2006.65,0.6)(2006.8,0.62)(2006.95,0.58)(2007.05,0.54)(2007.15,0.52)(2007.3,0.52)(2007.45,0.56)(2007.6,0.58)(2007.75,0.6)(2007.85,0.59)(2007.95,0.5)(2008.05,0.53)(2008.15,0.52)(2008.25,0.56)(2008.3,0.47)(2008.45,0.42)(2008.55,0.38)(2008.65,0.3)(2008.7,0.28)(2008.8,0.32)(2008.9,0.33)};
\end{axis}
\node[ttl] at (565.7pt,367.3pt) {Materials};
% ---------------- Technology
\begin{axis}[L,rowB, at={(772.3pt,47.3pt)}, width=268.4pt, height=276pt, ymin=-50, ymax=350, ytick={-50,0,50,100,150,200,250,300,350}, x axis line style={draw=none}, xtick style={draw=none}]
\draw[line width=0.9pt] (axis cs:1995,0) -- (axis cs:2009,0);
\pgfplotsinvokeforeach{1995,1996,1997,1998,1999,2000,2001,2002,2003,2004,2005,2006,2007,2008}{\draw[line width=0.8pt] (axis cs:#1,0) -- ++(0pt,-5pt);}
\addplot[bl] coordinates {(1995.0,55)(1995.31,48)(1995.57,43)(1995.75,42)(1995.84,32)(1996.01,38)(1996.45,46)(1996.71,45)(1996.88,36)(1997.06,26)(1997.23,21)(1997.32,17)(1997.4,-8)(1997.67,-11)(1998.01,-7)(1998.19,-5)(1998.36,-10)(1998.54,-9)(1998.59,106)(1998.71,70)(1998.97,70)(1999.18,106)(1999.32,70)(1999.49,96)(1999.62,94)(1999.76,124)(1999.88,106)(1999.97,154)(2000.07,154)(2000.19,303)(2000.31,176)(2000.38,133)(2000.49,99)(2000.63,89)(2000.77,70)(2000.98,60)(2001.11,46)(2001.24,24)(2001.5,17)(2001.76,12)(2001.93,20)(2002.37,22)(2002.63,19)(2002.98,30)(2003.15,26)(2003.36,15)(2003.62,24)(2003.9,32)(2004.29,30)(2004.63,28)(2005.16,32)(2005.5,30)(2006.03,36)(2006.38,32)(2006.72,35)(2007.07,34)(2007.33,27)(2007.77,22)(2008.12,20)(2008.38,24)(2008.64,17)(2008.82,12)(2008.95,9)};
\end{axis}
\begin{axis}[R,rowB, at={(772.3pt,47.3pt)}, width=268.4pt, height=276pt, ymin=-2, ymax=12, ytick={-2,0,2,4,6,8,10,12}, yticklabel style={/pgf/number format/.cd, fixed, precision=0}]
\addplot[rd] coordinates {(1995.0,2.02)(1995.23,2.45)(1995.4,2.5)(1995.66,2.45)(1995.84,2.4)(1996.01,2.8)(1996.18,2.67)(1996.36,2.9)(1996.53,3.17)(1996.62,3.3)(1996.76,3.12)(1996.88,2.53)(1997.06,1.85)(1997.23,1.6)(1997.35,1.1)(1997.42,-0.51)(1997.67,-0.65)(1998.01,-0.48)(1998.24,-0.68)(1998.36,-1.02)(1998.5,-0.85)(1998.62,-0.99)(1998.68,8.7)(1998.78,6.25)(1998.97,6.5)(1999.06,5.9)(1999.2,7.2)(1999.32,5.6)(1999.49,4.9)(1999.62,4.65)(1999.76,6.17)(1999.88,5.24)(1999.97,6.67)(2000.1,6.17)(2000.23,11.24)(2000.31,8.1)(2000.45,6.25)(2000.57,4.98)(2000.66,5.58)(2000.8,4.22)(2000.98,3.55)(2001.15,2.7)(2001.27,1.77)(2001.5,1.21)(2001.76,1.09)(2001.93,1.69)(2002.2,1.6)(2002.54,1.77)(2002.8,1.94)(2002.93,2.23)(2003.15,1.99)(2003.36,1.35)(2003.59,1.77)(2003.94,1.86)(2004.29,1.65)(2004.46,1.94)(2004.9,1.86)(2005.33,1.86)(2005.68,1.72)(2006.03,1.77)(2006.38,1.43)(2006.64,1.6)(2007.07,1.52)(2007.42,1.26)(2007.77,0.76)(2008.03,0.7)(2008.29,1.0)(2008.55,1.15)(2008.73,1.21)(2008.9,1.0)(2008.97,0.93)};
\end{axis}
\node[ttl] at (917.7pt,365pt) {Technology};
% ---------------- Telecom
\begin{axis}[L,rowB, at={(1114.3pt,61.7pt)}, width=265pt, height=267.3pt, xmin=1996, xmax=2008.8, xtick={1996,...,2008}, ymin=0, ymax=50, ytick={0,5,10,15,20,25,30,35,40,45,50}]
\addplot[bl] coordinates {(1996.0,16.8)(1996.08,21.5)(1996.19,19)(1996.31,21)(1996.43,17.1)(1996.6,17.5)(1996.68,18.4)(1996.76,15.3)(1996.92,16.5)(1997.05,18.4)(1997.11,20.9)(1997.24,20.3)(1997.35,19.8)(1997.45,16.2)(1997.56,17.5)(1997.64,14)(1997.76,15.9)(1997.85,13.4)(1997.92,15.9)(1998.08,14.3)(1998.21,10.9)(1998.33,13.1)(1998.45,11.5)(1998.58,11.5)(1998.69,10)(1998.93,9)(1999.09,8.5)(1999.25,8.7)(1999.41,9.7)(1999.57,8.1)(1999.74,9)(1999.82,13.4)(1999.95,12.2)(2000.06,10.9)(2000.17,6.5)(2000.3,6.2)(2000.46,4.1)(2000.62,5.3)(2000.78,6.2)(2000.86,6.5)(2000.94,4.4)(2001.1,4.7)(2001.27,4.1)(2001.43,4.4)(2001.59,5.3)(2001.72,5.6)(2001.83,4.2)(2002.0,5.4)(2002.15,5)(2002.31,4.1)(2002.47,3.4)(2002.63,2.8)(2002.8,2.8)(2003.04,3.7)(2003.2,5.6)(2003.36,6.2)(2003.52,5.6)(2003.68,10)(2003.84,10.3)(2003.97,11)(2004.08,8.4)(2004.29,10.3)(2004.45,8.1)(2004.62,7.7)(2004.73,9.4)(2004.89,8.3)(2005.13,8.7)(2005.29,13.4)(2005.45,12.8)(2005.57,10.9)(2005.69,14.2)(2005.86,14)(2005.97,15.3)(2006.1,15.4)(2006.23,13.1)(2006.34,13.4)(2006.45,15.6)(2006.55,18.7)(2006.66,13.7)(2006.77,15)(2006.9,13.1)(2006.98,13.4)(2007.06,32.1)(2007.18,35.5)(2007.26,30.2)(2007.38,31.5)(2007.46,34)(2007.58,44)(2007.67,37.1)(2007.76,43.6)(2007.87,33.4)(2007.98,21.5)(2008.08,24)(2008.19,19)(2008.32,14.7)(2008.46,9.7)(2008.59,9)(2008.67,7.7)(2008.79,9)};
\end{axis}
\begin{axis}[R,rowB, at={(1114.3pt,61.7pt)}, width=265pt, height=267.3pt, xmin=1996, xmax=2008.8, xtick={1996,...,2008}, ymin=0, ymax=1.8, ytick={0,0.2,0.4,0.6,0.8,1.0,1.2,1.4,1.6,1.8}]
\addplot[rd] coordinates {(1996.0,1.17)(1996.11,1.31)(1996.24,1.23)(1996.31,1.31)(1996.43,1.2)(1996.55,1.44)(1996.68,1.31)(1996.79,1.38)(1996.89,1.27)(1997.0,1.31)(1997.11,1.42)(1997.21,1.38)(1997.27,1.22)(1997.4,1.05)(1997.53,1.14)(1997.64,1.01)(1997.76,1.11)(1997.88,1.14)(1998.01,0.99)(1998.13,1.03)(1998.24,0.93)(1998.33,1.11)(1998.45,1.09)(1998.56,0.93)(1998.69,0.88)(1998.82,0.72)(1998.98,0.66)(1999.09,0.67)(1999.25,0.52)(1999.46,0.42)(1999.62,0.44)(1999.74,0.39)(1999.82,0.53)(1999.95,0.44)(2000.07,0.48)(2000.17,0.37)(2000.27,0.42)(2000.38,0.35)(2000.46,0.25)(2000.59,0.35)(2000.75,0.39)(2000.86,0.42)(2000.94,0.29)(2001.07,0.33)(2001.14,0.4)(2001.3,0.31)(2001.43,0.29)(2001.56,0.47)(2001.67,0.44)(2001.83,0.3)(2001.91,0.39)(2002.04,0.39)(2002.2,0.4)(2002.31,0.34)(2002.47,0.3)(2002.63,0.25)(2002.75,0.2)(2002.88,0.25)(2003.04,0.3)(2003.17,0.3)(2003.28,0.42)(2003.41,0.4)(2003.52,0.3)(2003.65,0.55)(2003.76,0.54)(2003.92,0.58)(2004.08,0.64)(2004.2,0.7)(2004.33,0.7)(2004.45,0.5)(2004.57,0.48)(2004.65,0.56)(2004.81,0.5)(2004.94,0.45)(2005.1,0.57)(2005.21,0.56)(2005.32,0.74)(2005.42,0.75)(2005.57,0.62)(2005.69,0.72)(2005.81,0.66)(2005.94,0.68)(2006.06,0.66)(2006.18,0.68)(2006.29,0.65)(2006.42,0.68)(2006.53,0.78)(2006.66,0.61)(2006.77,0.65)(2006.9,0.62)(2007.03,1.18)(2007.1,1.54)(2007.19,1.54)(2007.27,1.32)(2007.42,1.4)(2007.51,1.32)(2007.59,1.49)(2007.71,1.35)(2007.87,1.31)(2007.98,1.0)(2008.08,1.07)(2008.19,1.11)(2008.3,1.22)(2008.43,0.95)(2008.59,0.88)(2008.7,0.8)(2008.79,0.88)};
\end{axis}
\node[ttl] at (1271pt,363.3pt) {Telecom};
% ---------------- Utilities
\begin{axis}[L,rowB, at={(1483.3pt,66pt)}, width=260pt, height=259.7pt, xmax=2008.83, ymin=0, ymax=40, ytick={0,5,10,15,20,25,30,35,40}]
\addplot[bl] coordinates {(1995.0,15.5)(1995.09,18.1)(1995.18,16.5)(1995.35,16.1)(1995.44,14)(1995.53,4.2)(1995.62,3.4)(1995.76,4)(1995.85,9.6)(1995.97,8.1)(1996.1,9.9)(1996.24,10.9)(1996.36,14.5)(1996.5,13.2)(1996.63,14.5)(1996.77,15.8)(1996.86,14.5)(1996.98,17.6)(1997.07,18.3)(1997.12,15.2)(1997.21,18.1)(1997.39,17.8)(1997.48,11.9)(1997.62,12)(1997.74,10.1)(1997.87,10.4)(1998.01,12.4)(1998.13,12.4)(1998.27,9.3)(1998.45,8.2)(1998.63,8.1)(1998.75,5.5)(1998.89,5.7)(1999.07,5.2)(1999.21,4.7)(1999.34,5.9)(1999.46,7.3)(1999.6,5.5)(1999.74,7.3)(1999.87,8.3)(2000.01,11.1)(2000.1,9.3)(2000.22,8.8)(2000.31,9.3)(2000.45,7.5)(2000.63,7.3)(2000.75,6.3)(2000.88,7.5)(2001.02,8.6)(2001.1,6.8)(2001.28,8.3)(2001.41,7.5)(2001.55,7)(2001.73,6)(2001.9,6.4)(2002.08,6.8)(2002.29,6.8)(2002.47,6.3)(2002.65,6.8)(2002.79,7.5)(2002.96,8.8)(2003.14,8.6)(2003.28,8.1)(2003.41,6)(2003.58,7)(2003.71,8.8)(2003.81,11.9)(2003.94,10.4)(2004.06,10.9)(2004.2,7.8)(2004.38,8.8)(2004.56,9.1)(2004.68,9.3)(2004.82,11.7)(2004.95,11.9)(2005.05,9.1)(2005.18,9.3)(2005.3,12.8)(2005.44,12.4)(2005.58,12.9)(2005.71,11.7)(2005.83,12.8)(2005.97,13)(2006.06,13.4)(2006.15,10.9)(2006.33,11.7)(2006.54,12.2)(2006.72,12.7)(2006.82,13.6)(2006.95,12.9)(2007.07,14)(2007.21,13.4)(2007.34,14.5)(2007.42,15.8)(2007.53,16.8)(2007.6,18.1)(2007.71,25.8)(2007.8,38.1)(2007.87,28.9)(2007.97,26.5)(2008.06,24.2)(2008.13,26.8)(2008.27,16.3)(2008.38,19.6)(2008.49,19.6)(2008.6,12.9)(2008.72,12.2)(2008.81,13.7)};
\end{axis}
\begin{axis}[R,rowB, at={(1483.3pt,66pt)}, width=260pt, height=259.7pt, xmax=2008.83, ymin=0, ymax=1.4, ytick={0,0.2,0.4,0.6,0.8,1.0,1.2,1.4}]
\addplot[rd] coordinates {(1995.0,0.65)(1995.09,0.88)(1995.18,0.86)(1995.3,0.88)(1995.39,0.81)(1995.5,0.22)(1995.62,0.22)(1995.74,0.21)(1995.81,0.7)(1995.92,0.6)(1996.06,0.67)(1996.2,0.67)(1996.33,0.72)(1996.42,0.92)(1996.56,0.92)(1996.63,1.12)(1996.73,1.21)(1996.86,1.28)(1996.98,1.28)(1997.07,1.29)(1997.16,1.17)(1997.24,1.24)(1997.33,1.21)(1997.43,0.96)(1997.52,0.79)(1997.68,0.79)(1997.82,0.72)(1998.0,0.85)(1998.13,0.84)(1998.21,0.73)(1998.36,0.78)(1998.45,0.69)(1998.54,0.8)(1998.63,0.7)(1998.75,0.69)(1998.84,0.52)(1998.98,0.45)(1999.11,0.36)(1999.25,0.38)(1999.39,0.31)(1999.51,0.36)(1999.64,0.29)(1999.78,0.35)(1999.96,0.35)(2000.1,0.32)(2000.22,0.38)(2000.31,0.5)(2000.4,0.42)(2000.52,0.45)(2000.63,0.42)(2000.75,0.47)(2000.93,0.48)(2001.05,0.54)(2001.16,0.56)(2001.24,0.62)(2001.41,0.6)(2001.55,0.58)(2001.65,0.51)(2001.78,0.46)(2001.94,0.46)(2002.08,0.49)(2002.26,0.54)(2002.43,0.52)(2002.61,0.54)(2002.79,0.54)(2002.92,0.67)(2003.05,0.66)(2003.18,0.71)(2003.28,0.63)(2003.37,0.45)(2003.58,0.48)(2003.72,0.51)(2003.85,0.63)(2003.98,0.58)(2004.15,0.64)(2004.26,0.54)(2004.38,0.64)(2004.56,0.59)(2004.73,0.65)(2004.95,0.67)(2005.05,0.59)(2005.18,0.6)(2005.3,0.74)(2005.44,0.7)(2005.62,0.67)(2005.8,0.62)(2005.94,0.6)(2006.12,0.53)(2006.24,0.57)(2006.42,0.54)(2006.59,0.51)(2006.72,0.6)(2006.82,0.58)(2006.98,0.62)(2007.12,0.61)(2007.3,0.6)(2007.39,0.66)(2007.5,0.64)(2007.57,0.78)(2007.74,0.9)(2007.78,1.15)(2007.88,1.08)(2008.01,1.12)(2008.13,1.08)(2008.27,1.03)(2008.36,1.15)(2008.49,1.17)(2008.6,1.19)(2008.72,1.32)(2008.81,1.32)};
\end{axis}
\node[ttl] at (1629pt,363.3pt) {Utilities};
\end{tikzpicture}
\end{document}
